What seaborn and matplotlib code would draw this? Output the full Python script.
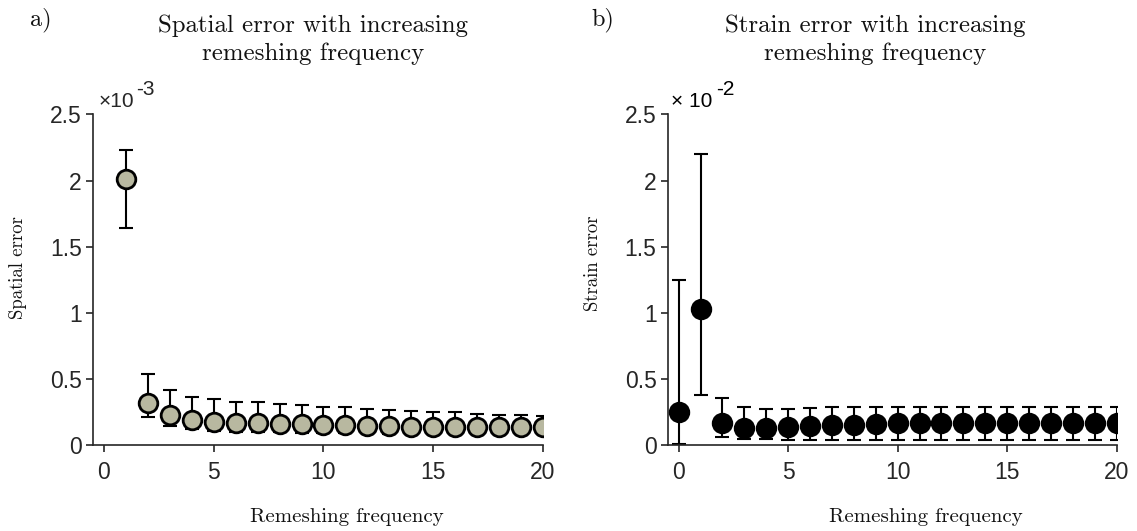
import numpy as np
import pandas as pd
import matplotlib
matplotlib.use("Agg")
import matplotlib.pyplot as plt
import seaborn as sns

# ---- data ----
freq_a = list(range(1, 21))
spatial_mean = [2.015, 0.322, 0.229, 0.191, 0.176, 0.166, 0.166, 0.160, 0.160, 0.151,
                0.151, 0.146, 0.146, 0.141, 0.141, 0.141, 0.141, 0.136, 0.136, 0.136]
spatial_upper = [2.234, 0.537, 0.416, 0.367, 0.350, 0.330, 0.330, 0.312, 0.302, 0.289,
                 0.287, 0.274, 0.267, 0.260, 0.252, 0.248, 0.239, 0.231, 0.226, 0.224]
spatial_lower = [1.640, 0.216, 0.148, 0.123, 0.110, 0.103, 0.100, 0.098, 0.096, 0.094,
                 0.092, 0.090, 0.089, 0.088, 0.087, 0.086, 0.085, 0.084, 0.083, 0.082]

freq_b = list(range(0, 21))
strain_mean = [0.254, 1.030, 0.166, 0.128, 0.128, 0.138, 0.148, 0.156, 0.156, 0.161,
               0.166, 0.166, 0.166, 0.166, 0.166, 0.166, 0.166, 0.166, 0.166, 0.166, 0.166]
strain_upper = [1.252, 2.200, 0.360, 0.287, 0.277, 0.274, 0.284, 0.287, 0.287, 0.287,
                0.287, 0.288, 0.289, 0.290, 0.292, 0.292, 0.292, 0.292, 0.292, 0.292, 0.292]
strain_lower = [0.010, 0.378, 0.065, 0.045, 0.045, 0.040, 0.040, 0.040, 0.040, 0.040,
                0.040, 0.040, 0.040, 0.040, 0.040, 0.040, 0.040, 0.040, 0.040, 0.040, 0.040]

xticks = [0, 5, 10, 15, 20]
yticks = [0, 0.5, 1, 1.5, 2, 2.5]
ytick_labels = ["0", "0.5", "1", "1.5", "2", "2.5"]

df_a = pd.DataFrame({"freq": freq_a, "mean": spatial_mean,
                     "upper": spatial_upper, "lower": spatial_lower})
df_b = pd.DataFrame({"freq": freq_b, "mean": strain_mean,
                     "upper": strain_upper, "lower": strain_lower})

sns.set_theme(style="ticks")
plt.rcParams["font.family"] = ["Liberation Sans", "DejaVu Sans"]

W, H = 1137, 531
fig = plt.figure(figsize=(W / 100, H / 100), dpi=100)

serif = ["cmr10", "DejaVu Serif"]
tick_color = "#262626"
text_color = "#111111"

def make_panel(ax, df, face, letter, letter_x, title, title_x, ylabel, ylabel_y,
               xlabel_x, exp_base, exp_sup, exp_x, sup_x, exp_color):
    ax.errorbar(df["freq"], df["mean"],
                yerr=[df["mean"] - df["lower"], df["upper"] - df["mean"]],
                fmt="none", ecolor="black", elinewidth=1.5, capsize=5,
                capthick=1.5, zorder=2)
    sns.scatterplot(data=df, x="freq", y="mean", ax=ax, s=180, color=face,
                    edgecolor="black", linewidth=2.0, zorder=3, legend=False)
    ax.set_xlim(-0.5, 20)
    ax.set_ylim(0, 2.5)
    ax.set_xticks(xticks)
    ax.set_yticks(yticks)
    ax.set_yticklabels(ytick_labels)
    ax.tick_params(axis="both", direction="out", length=5, width=1.2,
                   labelsize=16.5, colors=tick_color, labelcolor=tick_color)
    ax.tick_params(axis="y", pad=3)
    ax.tick_params(axis="x", pad=6)
    for s in ["top", "right"]:
        ax.spines[s].set_visible(False)
    for s in ["left", "bottom"]:
        ax.spines[s].set_color(tick_color)
        ax.spines[s].set_linewidth(1.2)
    ax.set_xlabel("Remeshing frequency", fontfamily=serif, fontsize=15, color=text_color)
    ax.set_ylabel(ylabel, fontfamily=serif, fontsize=13.5, color=text_color)
    ax.xaxis.set_label_coords(xlabel_x, -0.19)
    ax.yaxis.set_label_coords(-0.147, ylabel_y)
    ax.text(title_x, 1.165, title, transform=ax.transAxes, fontfamily=serif,
            fontsize=17.9, color=text_color, ha="center", va="baseline",
            linespacing=1.3, multialignment="center")
    ax.text(letter_x, 1.287, letter, transform=ax.transAxes, fontfamily=serif,
            fontsize=17.5, color=text_color, ha="left", va="center")
    ax.text(exp_x, 1.0227, exp_base, transform=ax.transAxes, fontsize=15,
            color=exp_color, ha="left", va="baseline")
    ax.text(sup_x, 1.059, exp_sup, transform=ax.transAxes, fontsize=15,
            color=exp_color, ha="left", va="baseline")

ax1 = fig.add_axes([93 / W, 1 - 445.3 / H, (543 - 93) / W, (445.3 - 114.5) / H])
ax2 = fig.add_axes([667.7 / W, 1 - 445.3 / H, (1116.7 - 667.7) / W, (445.3 - 114.5) / H])

make_panel(ax1, df_a, "#b8b8a0", "a)", -0.14,
           "Spatial error with increasing\nremeshing frequency", 0.49,
           "Spatial error", 0.536, 0.565,
           "\u00d710", "-3", 0.012, 0.096, "#262626")
make_panel(ax2, df_b, "black", "b)", -0.169,
           "Strain error with increasing\nremeshing frequency", 0.462,
           "Strain error", 0.551, 0.575,
           "\u00d7 10", "-2", 0.008, 0.108, "black")

fig.savefig("out.png", dpi=100)
